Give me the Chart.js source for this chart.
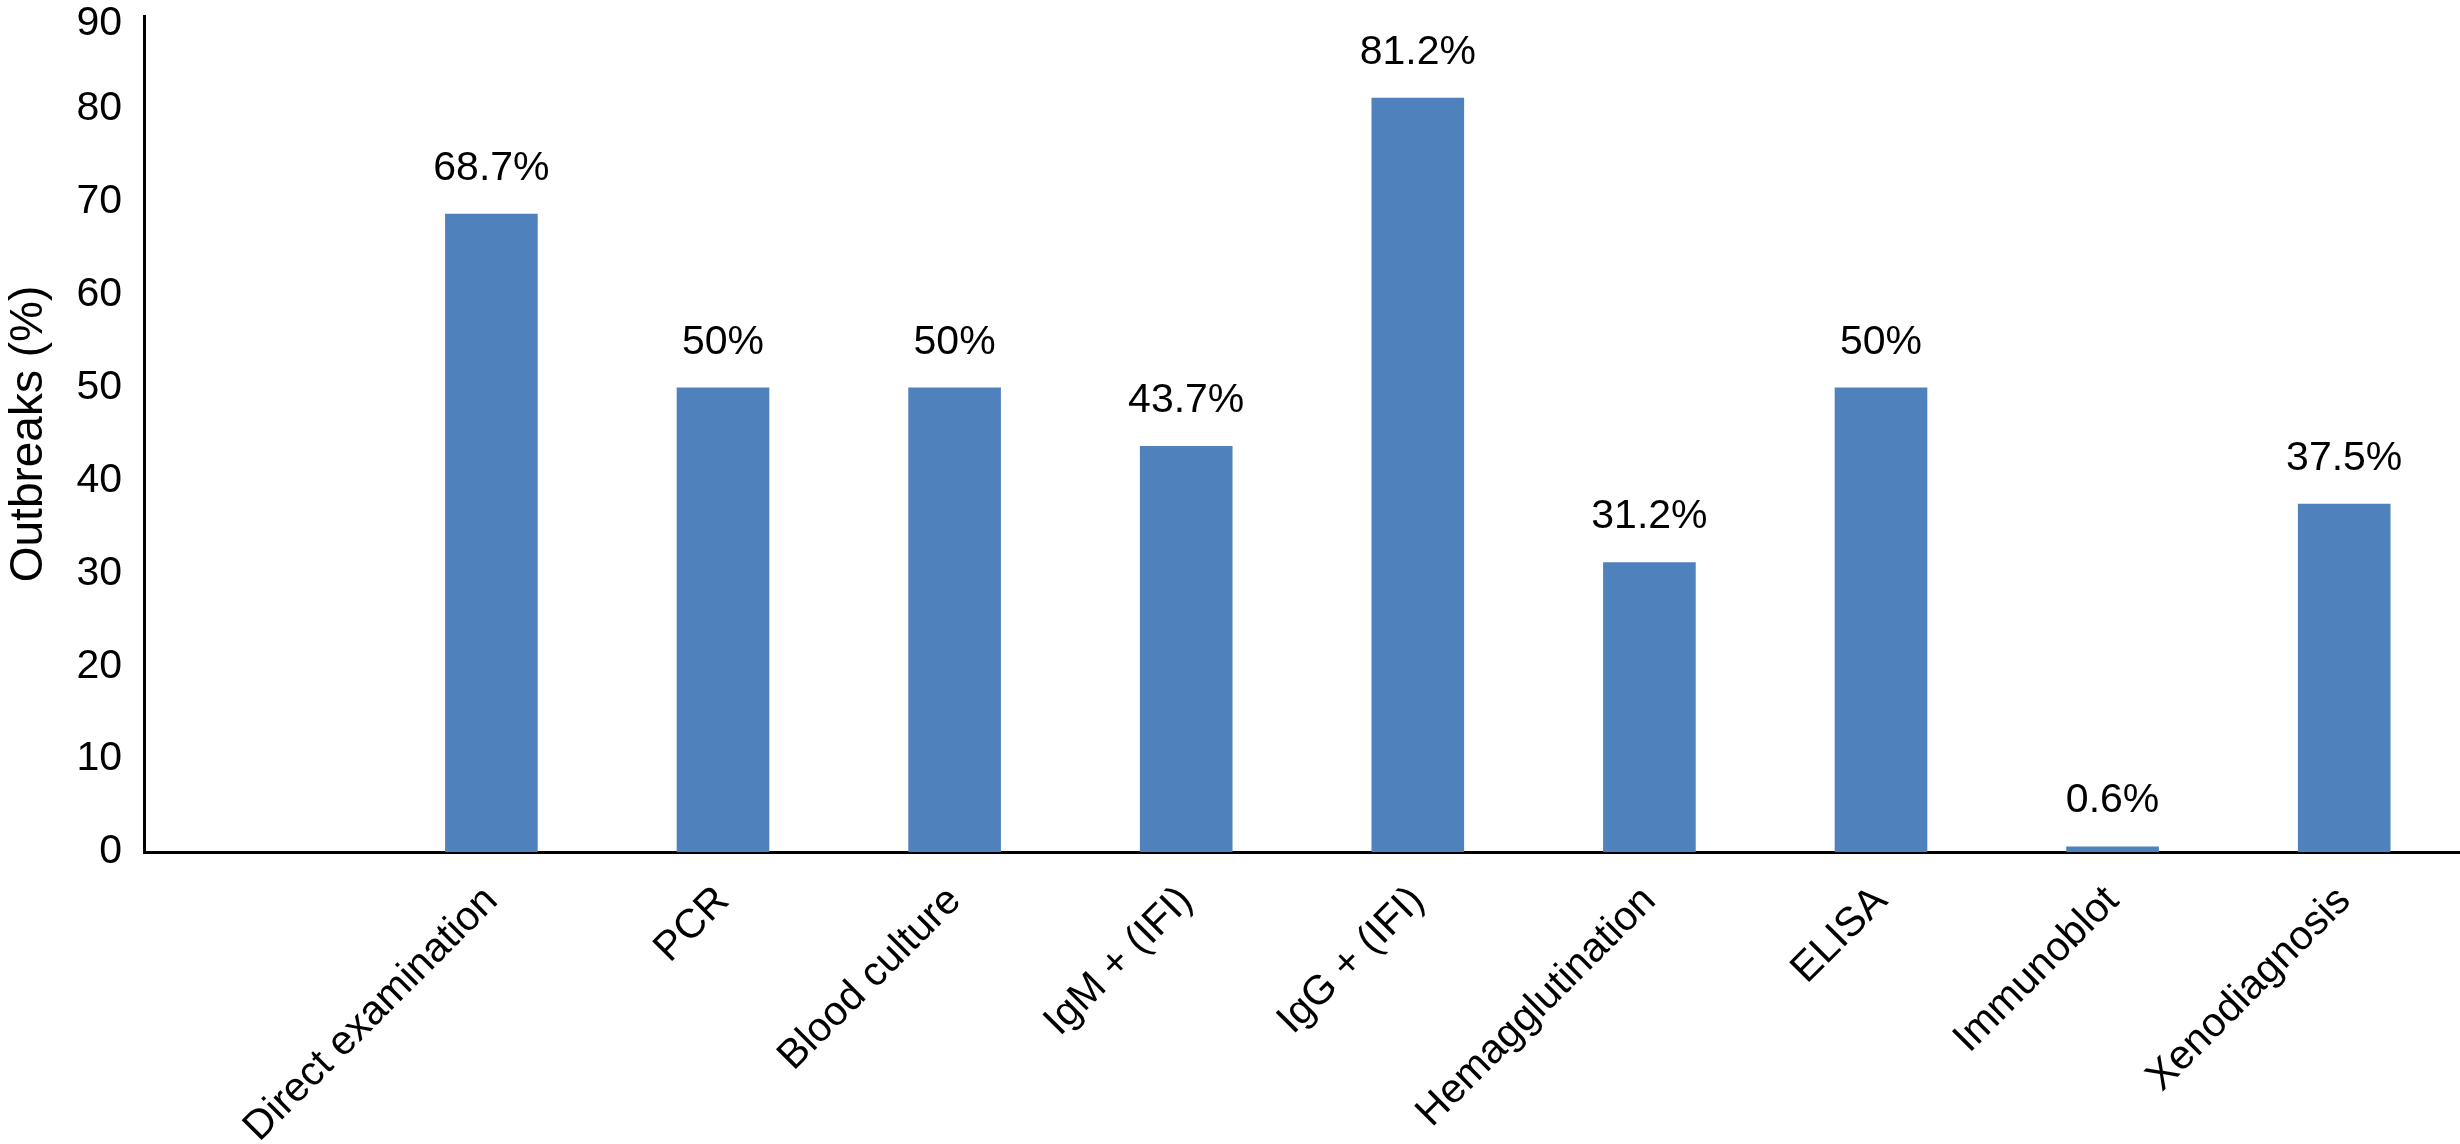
<!DOCTYPE html>
<html>
<head>
<meta charset="utf-8">
<script src="https://cdn.jsdelivr.net/npm/chart.js@4"></script>
<style>
html,body{margin:0;padding:0;background:#fff;}
canvas{display:block;}
</style>
</head>
<body>
<canvas id="c" width="2460" height="1144"></canvas>
<script>
const categories = ["", "Direct examination", "PCR", "Blood culture", "IgM + (IFI)", "IgG + (IFI)", "Hemagglutination", "ELISA", "Immunoblot", "Xenodiagnosis"];
const outbreakValues = [null, 68.7, 50, 50, 43.7, 81.2, 31.2, 50, 0.6, 37.5];
const yTicks = [0, 10, 20, 30, 40, 50, 60, 70, 80, 90];

const FONT = "'Liberation Sans', Arial, Helvetica, sans-serif";
const Y_MAX = yTicks[yTicks.length - 1];

const valueLabels = {
  id: 'valueLabels',
  afterDatasetsDraw(chart) {
    const ctx = chart.ctx;
    const meta = chart.getDatasetMeta(0);
    ctx.save();
    ctx.font = '41px ' + FONT;
    ctx.fillStyle = '#000';
    ctx.textAlign = 'center';
    ctx.textBaseline = 'alphabetic';
    meta.data.forEach((bar, i) => {
      const v = outbreakValues[i];
      if (v === null || v === undefined) return;
      ctx.fillText(v + '%', bar.x, bar.y - 34);
    });
    ctx.restore();
  }
};

new Chart(document.getElementById('c'), {
  type: 'bar',
  data: {
    labels: categories,
    datasets: [{
      data: outbreakValues,
      backgroundColor: 'rgb(79,129,189)',
      borderWidth: 0,
      barPercentage: 0.4,
      categoryPercentage: 1.0
    }]
  },
  options: {
    responsive: false,
    devicePixelRatio: 1,
    animation: false,
    layout: { padding: { left: 2, right: 0, top: 0, bottom: 0 } },
    plugins: { legend: { display: false }, tooltip: { enabled: false } },
    scales: {
      x: {
        offset: true,
        afterFit(scale) { scale.height = 292; },
        grid: { display: false, drawTicks: false },
        border: { display: true, color: '#000', width: 3 },
        ticks: {
          color: '#000',
          font: { family: FONT, size: 41 },
          minRotation: 45,
          maxRotation: 45,
          padding: 25,
          autoSkip: false
        }
      },
      y: {
        min: 0,
        max: Y_MAX,
        afterBuildTicks(scale) { scale.ticks = yTicks.map(v => ({ value: v })); },
        afterFit(scale) { scale.width = 142; scale.paddingTop = 16; },
        grid: { display: false, drawOnChartArea: false, drawTicks: true, tickLength: 11, tickColor: '#000', tickWidth: 3 },
        border: { display: true, color: '#000', width: 3 },
        ticks: {
          color: '#000',
          callback: (value) => value === Y_MAX ? ['', String(value)] : String(value),
          font: (c) => ({ family: FONT, size: 41, lineHeight: (c.tick && c.tick.value === Y_MAX) ? 0.36 : 1 }),
          padding: 11
        },
        title: {
          display: true,
          text: 'Outbreaks (%)',
          color: '#000',
          font: { family: FONT, size: 46 },
          padding: { top: 0, bottom: 14 }
        }
      }
    }
  },
  plugins: [valueLabels]
});
</script>
</body>
</html>
